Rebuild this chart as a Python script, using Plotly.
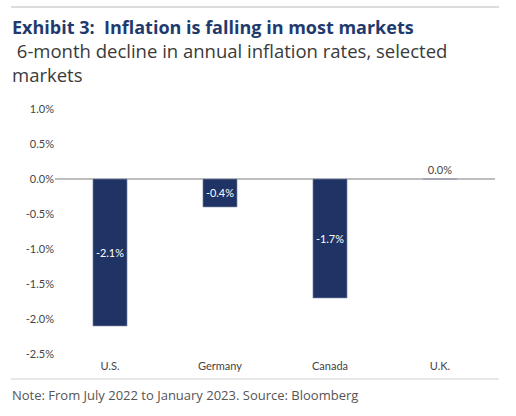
import plotly.graph_objects as go

categories = ["U.S.", "Germany", "Canada", "U.K."]
values = [-2.1, -0.4, -1.7, 0.0]
tick_vals = [1.0, 0.5, 0.0, -0.5, -1.0, -1.5, -2.0, -2.5]
tick_text = ["1.0%", "0.5%", "0.0%", "-0.5%", "-1.0%", "-1.5%", "-2.0%", "-2.5%"]
labels = [f"{v:.1f}%" for v in values]

W, H = 516, 416
L, R, T, B = 55, 21, 109, 62
ph = H - T - B
pw = W - L - R

def py(ypix):
    return (H - B - ypix) / ph

def px(xpix):
    return (xpix - L) / pw

FONT = "Lato, 'Open Sans', sans-serif"
TFONT = "'Open Sans', sans-serif"
NAVY = "#1f3464"

fig = go.Figure()
fig.add_trace(go.Bar(
    x=categories, y=values,
    marker=dict(color=NAVY, line=dict(color="#8a93ad", width=0.6)),
    text=labels,
    textposition=["inside" if v != 0 else "outside" for v in values],
    insidetextanchor="middle",
    textangle=0,
    insidetextfont=dict(color="white", size=11, family=FONT),
    outsidetextfont=dict(color="#444444", size=11, family=FONT),
    cliponaxis=False,
    hoverinfo="skip",
))

fig.update_layout(
    width=W, height=H,
    margin=dict(l=L, r=R, t=T, b=B, autoexpand=False),
    plot_bgcolor="white", paper_bgcolor="white",
    bargap=0.69,
    showlegend=False,
    font=dict(family=FONT, color="#444444", size=11),
    xaxis=dict(showgrid=False, showline=False, ticks="", zeroline=False,
               ticklabelstandoff=4,
               tickfont=dict(size=11, color="#444444")),
    yaxis=dict(range=[-2.5, 1.0], tickvals=tick_vals, ticktext=tick_text,
               showgrid=False, showline=False, ticks="",
               zeroline=True, zerolinecolor="#bdbdbd", zerolinewidth=1.5,
               tickfont=dict(size=11, color="#444444")),
    shapes=[
        dict(type="line", xref="paper", yref="paper", x0=px(11), x1=px(499),
             y0=py(7), y1=py(7), line=dict(color="#d0d0d0", width=1.5)),
        dict(type="line", xref="paper", yref="paper", x0=px(11), x1=px(499),
             y0=py(379), y1=py(379), line=dict(color="#e0e0e0", width=1.5)),
    ],
    annotations=[
        dict(xref="paper", yref="paper", x=px(10), y=py(27), xanchor="left", yanchor="middle",
             text="<b>Exhibit 3:  Inflation is falling in most markets</b>", showarrow=False,
             font=dict(size=18, color="#1f3b6e", family=TFONT)),
        dict(xref="paper", yref="paper", x=px(10), y=py(63), xanchor="left", yanchor="middle",
             text=" 6-month decline in annual inflation rates, selected<br>markets", showarrow=False,
             align="left", font=dict(size=18.5, color="#3a3a3a", family=TFONT)),
        dict(xref="paper", yref="paper", x=px(10), y=py(395), xanchor="left", yanchor="middle",
             text="Note: From July 2022 to January 2023. Source: Bloomberg", showarrow=False,
             font=dict(size=13, color="#555555", family=TFONT)),
    ],
)

fig.write_html(
    "out.html",
    config={"displayModeBar": False},
    post_script="document.body.style.margin='0';document.body.style.overflow='hidden';",
)
